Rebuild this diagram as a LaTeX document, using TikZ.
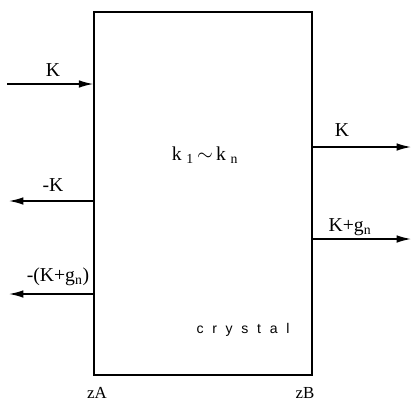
\documentclass[tikz,border=0pt]{standalone}
\usepackage{fontspec}
\setmainfont{Liberation Serif}
\setsansfont{Liberation Sans}
\usetikzlibrary{arrows.meta, positioning}

\tikzset{
  wave/.style={-{Latex[length=3.6mm, width=1.9mm]}, line width=1pt},
  lbl/.style={font=\fontsize{14}{16}\selectfont, inner sep=0pt},
  zlbl/.style={font=\fontsize{12}{14}\selectfont, inner sep=0pt}
}

\begin{document}
\begin{tikzpicture}[x=0.025cm, y=-0.025cm]
  \useasboundingbox (0,0) rectangle (414,403);

  % crystal slab
  \node[draw, line width=1pt, minimum width=5.45cm, minimum height=9.075cm, inner sep=0pt] (box) at (203,193.5) {};
  \node[lbl] (kk) at (205,155) {k\textsubscript{\,\,1}\,$\sim$\,k\textsubscript{\,\,n}};
  \node[inner sep=0pt, font=\sffamily\fontsize{10}{12}\selectfont] (cr) at (243,330) {\addfontfeature{LetterSpace=62}crystal};

  % free ends of the waves
  \coordinate (inK) at (7,84);
  \coordinate (outK) at (9,201);
  \coordinate (outKg) at (9,294);
  \coordinate (trK) at (411,147);
  \coordinate (trKg) at (411,239);

  % incident and reflected waves
  \draw[wave] (inK) -- (inK -| box.west);
  \draw[wave] (outK -| box.west) -- (outK);
  \draw[wave] (outKg -| box.west) -- (outKg);
  \node[lbl] (lK) at (53,70) {K};
  \node[lbl] (lmK) at (53,185) {-K};
  \node[lbl] (lmKg) at (58,277) {-(K+g\textsubscript{n})};

  % transmitted waves
  \draw[wave] (trK -| box.east) -- (trK);
  \draw[wave] (trKg -| box.east) -- (trKg);
  \node[lbl] (rK) at (342,130) {K};
  \node[lbl] (rKg) at (350,227) {K+g\textsubscript{n}};

  % surfaces
  \node[zlbl] (zA) at (97,393) {zA};
  \node[zlbl] (zB) at (305,393) {zB};
\end{tikzpicture}
\end{document}
